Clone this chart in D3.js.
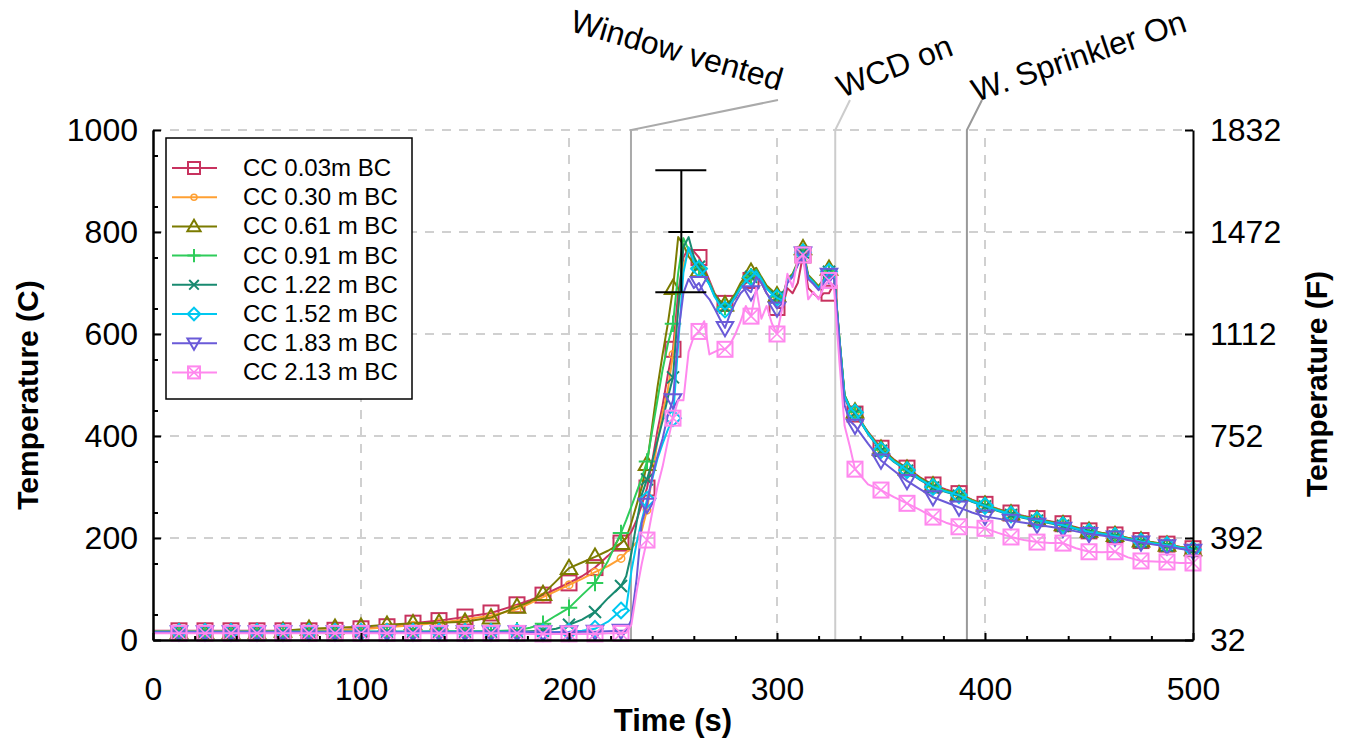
<!DOCTYPE html>
<html>
<head>
<meta charset="utf-8">
<script src="https://cdn.jsdelivr.net/npm/d3@7"></script>
<style>
body { margin: 0; background: #fff; }
svg text { font-family: "Liberation Sans", Arial, sans-serif; }
</style>
</head>
<body>
<div id="chart"></div>
<script>
// time grid (s)
var times = [0,12.5,25,37.5,50,62.5,75,87.5,100,112.5,125,137.5,150,162.5,175,
  181.25,187.5,193.75,200,206.25,212.5,218.75,225,
  227.5,230,232.5,235,237.5,240,242.5,245,247.5,250,
  252.5,255,257.5,260,262.5,265,267.5,270,272.5,275,
  277.5,280,282.5,285,287.5,290,292.5,295,297.5,300,
  302.5,305,307.5,310,312.5,315,317.5,320,322.5,325,
  327.5,330,332.5,335,337.5,
  343.75,350,356.25,362.5,368.75,375,381.25,387.5,393.75,400,406.25,412.5,418.75,425,431.25,437.5,443.75,450,456.25,462.5,468.75,475,481.25,487.5,493.75,500];

var cc003 = [18,18,18,18,18,18,18,19,22,26,33,38,45,53,69,
  78,88,100,112,125,142,165,190,
  200,212,235,265,298,350,410,460,520,570,
  680,750,768,762,750,730,705,680,665,660,
  660,670,690,700,705,715,700,680,665,652,
  650,690,680,700,755,690,680,670,680,680,
  700,585,475,452,443,
  408,376,354,337,319,304,295,287,275,266,257,249,243,238,233,228,221,214,210,206,200,195,191,188,183,179];
var cc030 = [17,17,17,17,17,17,18,19,21,25,29,34,40,48,60,
  72,84,96,108,120,133,145,160,
  172,180,192,215,255,320,390,445,490,560,
  650,735,762,748,732,718,700,677,662,654,
  662,676,694,706,714,725,708,690,680,672,
  666,703,714,737,760,712,700,690,703,720,
  712,590,478,456,446,
  406,374,352,335,317,302,293,285,274,265,256,247,241,236,231,226,219,213,209,205,199,194,190,187,182,178];
var cc061 = [15,15,15,15,15,18,22,24,26,30,33,34,36,44,65,
  75,90,115,141,152,163,175,190,
  200,230,265,300,345,420,495,560,620,690,
  790,775,752,738,725,712,698,678,665,658,
  665,680,700,715,722,730,712,695,686,676,
  670,708,718,742,768,716,705,694,708,728,
  716,592,480,458,448,
  407,375,353,336,318,303,293,286,274,265,256,248,242,237,232,227,220,214,210,206,200,195,191,187,182,178];
var cc091 = [16,16,16,16,16,16,16,16,16,16,16,17,17,17,19,
  24,32,48,63,88,112,155,210,
  235,262,290,318,350,410,470,530,580,620,
  720,788,765,745,730,716,700,676,661,653,
  661,676,693,707,713,726,709,691,682,673,
  668,706,716,739,762,713,703,691,706,724,
  714,592,480,457,447,
  406,373,351,334,316,301,292,285,273,264,255,247,241,236,231,226,219,213,209,205,199,194,190,187,182,178];
var cc122 = [16,16,16,16,16,16,16,16,16,16,16,16,16,16,16,
  17,18,22,30,40,55,82,106,
  125,170,230,285,315,350,390,430,475,515,
  650,770,790,752,732,716,699,675,660,652,
  660,675,692,705,712,724,708,690,680,672,
  667,705,715,738,760,712,702,690,705,722,
  712,590,478,455,445,
  404,371,349,332,314,299,290,283,271,262,253,245,239,234,229,224,217,211,207,203,197,192,188,185,180,176];
var cc152 = [16,16,16,16,16,16,16,16,16,16,16,16,16,16,16,
  15,15,15,16,18,22,36,58,
  62,135,190,235,275,315,355,385,412,435,
  580,720,770,742,728,714,697,673,657,648,
  657,673,690,704,711,723,707,689,679,671,
  666,704,714,737,760,711,701,689,704,722,
  711,589,477,455,446,
  405,372,350,333,315,300,291,284,272,263,254,246,240,235,230,225,218,212,208,204,198,193,189,186,181,177];
var cc183 = [15,15,15,15,15,15,15,15,15,15,15,15,15,15,15,
  15,15,15,15,16,16,17,18,
  18,40,120,230,265,320,360,395,440,470,
  600,680,708,690,700,680,668,650,630,612,
  640,662,680,690,682,712,700,680,665,650,
  660,700,712,735,758,708,698,686,700,716,
  708,585,460,430,420,
  385,352,332,312,296,280,270,260,250,242,238,234,230,226,222,218,213,208,205,201,196,191,187,184,179,175];
var cc213 = [13,13,13,13,13,13,13,13,13,13,13,13,13,13,13,
  12,12,12,12,12,12,13,13,
  14,30,95,150,196,250,300,340,390,435,
  470,470,565,595,605,625,560,565,570,570,
  580,600,625,655,635,690,630,655,621,600,
  650,718,692,748,755,668,682,668,692,705,
  686,545,420,380,335,
  305,294,280,268,255,241,230,222,221,219,210,202,196,192,190,190,180,173,172,173,162,155,154,153,151,151];

var seriesNames = ["CC 0.03m BC","CC 0.30 m BC","CC 0.61 m BC","CC 0.91 m BC","CC 1.22 m BC","CC 1.52 m BC","CC 1.83 m BC","CC 2.13 m BC"];
var seriesValues = [cc003, cc030, cc061, cc091, cc122, cc152, cc183, cc213];
var seriesColors = ["#c8325f","#ffa033","#7b7b00","#2ecc5a","#188a70","#00c8f0","#6a5ad8","#ff88ee"];
var seriesMarkers = ["square","circle","triangle","plus","cross","diamond","triangleDown","squareX"];

var xTicks = [0,100,200,300,400,500];
var yTicks = [0,200,400,600,800,1000];
var fTicks = [32,392,752,1112,1472,1832];

var eventTimes = [229.8, 328, 391.3];
var eventLabels = ["Window vented","WCD on","W. Sprinkler On"];
var errLow = 682, errMid = 800, errHigh = 921, errTime = 254;

var W = 1350, H = 742;
var svg = d3.select("#chart").append("svg")
  .attr("width", W).attr("height", H);

var x = d3.scaleLinear().domain([0,500]).range([153,1193]);
var y = d3.scaleLinear().domain([0,1000]).range([640,130]);
var yF = d3.scaleLinear().domain([32,1832]).range([640,130]);

// grid
var grid = svg.append("g").attr("stroke","#d0d0d0").attr("stroke-width",2).attr("stroke-dasharray","9,8");
grid.selectAll(".gx").data(xTicks.filter(function(d){ return d>0 && d<500; })).enter().append("line")
  .attr("x1", function(d){ return x(d); }).attr("x2", function(d){ return x(d); })
  .attr("y1", y(0)).attr("y2", y(1000));
grid.selectAll(".gy").data(yTicks.filter(function(d){ return d>0; })).enter().append("line")
  .attr("x1", x(0)).attr("x2", x(500))
  .attr("y1", function(d){ return y(d); }).attr("y2", function(d){ return y(d); });

// event lines + leaders
var evColors = ["#aaaaaa","#cccccc","#999999"];
var leaderEnd = [[778,100],[850,100],[982,100]];
eventTimes.forEach(function(t,i){
  var ex = x(t);
  svg.append("path")
    .attr("d", "M" + ex + "," + y(0) + "L" + ex + "," + y(1000) + "L" + leaderEnd[i][0] + "," + leaderEnd[i][1])
    .attr("fill","none").attr("stroke", evColors[i]).attr("stroke-width",2);
});
var labelPos = [[779,91,16,"end",32],[842,98,-21,"start",32],[976,102,-18.5,"start",32]];
eventLabels.forEach(function(s,i){
  var p = labelPos[i];
  svg.append("text")
    .attr("transform","translate(" + p[0] + "," + p[1] + ") rotate(" + p[2] + ")")
    .attr("text-anchor", p[3])
    .attr("font-size", p[4])
    .text(s);
});

function drawMarker(g, type, cx, cy, s, color){
  var h = s/2;
  var m = g.append("g").attr("stroke", color).attr("stroke-width",2).attr("fill","none");
  if(type === "square"){
    m.append("rect").attr("x",cx-h).attr("y",cy-h).attr("width",s).attr("height",s);
  } else if(type === "circle"){
    m.append("circle").attr("cx",cx).attr("cy",cy).attr("r",s*0.25).attr("stroke-width",1.5);
  } else if(type === "triangle"){
    m.append("path").attr("d","M"+cx+","+(cy-s*0.55)+"L"+(cx+h*1.1)+","+(cy+s*0.4)+"L"+(cx-h*1.1)+","+(cy+s*0.4)+"Z");
  } else if(type === "plus"){
    m.append("path").attr("d","M"+(cx-h*1.1)+","+cy+"L"+(cx+h*1.1)+","+cy+"M"+cx+","+(cy-h*1.1)+"L"+cx+","+(cy+h*1.1));
  } else if(type === "cross"){
    m.append("path").attr("d","M"+(cx-h*0.8)+","+(cy-h*0.8)+"L"+(cx+h*0.8)+","+(cy+h*0.8)+"M"+(cx-h*0.8)+","+(cy+h*0.8)+"L"+(cx+h*0.8)+","+(cy-h*0.8));
  } else if(type === "diamond"){
    m.append("path").attr("d","M"+cx+","+(cy-h*1.05)+"L"+(cx+h*1.05)+","+cy+"L"+cx+","+(cy+h*1.05)+"L"+(cx-h*1.05)+","+cy+"Z");
  } else if(type === "triangleDown"){
    m.append("path").attr("d","M"+cx+","+(cy+s*0.55)+"L"+(cx+h*1.1)+","+(cy-s*0.4)+"L"+(cx-h*1.1)+","+(cy-s*0.4)+"Z");
  } else if(type === "squareX"){
    m.append("rect").attr("x",cx-h).attr("y",cy-h).attr("width",s).attr("height",s);
    m.append("path").attr("stroke-width",1.5).attr("d","M"+(cx-h)+","+(cy-h)+"L"+(cx+h)+","+(cy+h)+"M"+(cx-h)+","+(cy+h)+"L"+(cx+h)+","+(cy-h));
  }
}

// series
var line = d3.line()
  .x(function(d){ return x(d[0]); })
  .y(function(d){ return y(d[1]); });

seriesValues.forEach(function(vals, si){
  var pts = times.map(function(t,i){ return [t, vals[i]]; });
  var g = svg.append("g");
  g.append("path").datum(pts).attr("d", line)
    .attr("fill","none").attr("stroke", seriesColors[si]).attr("stroke-width",2)
    .attr("stroke-linejoin","round");
  pts.forEach(function(p){
    if(p[0] > 0 && p[0] % 12.5 === 0){
      drawMarker(g, seriesMarkers[si], x(p[0]), y(p[1]), 15, seriesColors[si]);
    }
  });
});

// error bar
var eb = svg.append("g").attr("stroke","#000").attr("stroke-width",2);
var ex0 = x(errTime);
eb.append("line").attr("x1",ex0).attr("x2",ex0).attr("y1",y(errLow)).attr("y2",y(errHigh));
eb.append("line").attr("x1",ex0-26).attr("x2",ex0+25).attr("y1",y(errHigh)).attr("y2",y(errHigh));
eb.append("line").attr("x1",ex0-26).attr("x2",ex0+25).attr("y1",y(errLow)).attr("y2",y(errLow));
eb.append("line").attr("x1",ex0-13).attr("x2",ex0+12).attr("y1",y(errMid)).attr("y2",y(errMid));

// axes
var fontTick = 32;
var fmt = d3.format("d");
var axL = svg.append("g").attr("transform","translate(" + x(0) + ",0)")
  .call(d3.axisLeft(y).tickValues(yTicks).tickFormat(fmt).tickSizeInner(-8).tickSizeOuter(0).tickPadding(15));
svg.append("g").attr("transform","translate(" + x(0) + ",0)")
  .call(d3.axisLeft(y).tickValues(d3.range(50,1000,100)).tickSizeInner(-5).tickSizeOuter(0).tickFormat(""));
var axB = svg.append("g").attr("transform","translate(0," + y(0) + ")")
  .call(d3.axisBottom(x).tickValues(xTicks).tickFormat(fmt).tickSizeInner(-7).tickSizeOuter(0).tickPadding(36));
svg.append("g").attr("transform","translate(0," + y(0) + ")")
  .call(d3.axisBottom(x).tickValues(d3.range(0,501,20).filter(function(d){ return d % 100 !== 0; })).tickSizeInner(-4).tickSizeOuter(0).tickFormat(""));
var axR = svg.append("g").attr("transform","translate(" + x(500) + ",0)")
  .call(d3.axisRight(yF).tickValues(fTicks).tickFormat(fmt).tickSizeInner(-8).tickSizeOuter(0).tickPadding(17));
svg.selectAll(".domain").attr("stroke","#000").attr("stroke-width",2);
svg.selectAll(".tick line").attr("stroke","#000").attr("stroke-width",2);
[axL, axB, axR].forEach(function(a){
  a.selectAll("text").attr("font-size", fontTick).attr("font-family","Liberation Sans, Arial, sans-serif").attr("fill","#000");
});
axB.selectAll("text").attr("dy","0");
axB.selectAll("text").attr("y", 60);

// axis titles
svg.append("text").attr("transform","translate(38,395) rotate(-90)")
  .attr("text-anchor","middle").attr("font-size",30).attr("font-weight","bold").text("Temperature (C)");
svg.append("text").attr("transform","translate(1327,384) rotate(-90)")
  .attr("text-anchor","middle").attr("font-size",30).attr("font-weight","bold").text("Temperature (F)");
svg.append("text").attr("x", x(250)).attr("y",731)
  .attr("text-anchor","middle").attr("font-size",31).attr("font-weight","bold").text("Time (s)");

// legend
var lg = svg.append("g");
lg.append("rect").attr("x",166).attr("y",138).attr("width",246).attr("height",261)
  .attr("fill","#fff").attr("stroke","#000").attr("stroke-width",1.5);
seriesNames.forEach(function(name, i){
  var ly = 168 + i * 29.2;
  lg.append("line").attr("x1",172).attr("x2",217).attr("y1",ly).attr("y2",ly)
    .attr("stroke", seriesColors[i]).attr("stroke-width",2);
  drawMarker(lg, seriesMarkers[i], 194, ly, 12, seriesColors[i]);
  lg.append("text").attr("x",243).attr("y",ly+8).attr("font-size",24).text(name);
});
</script>
</body>
</html>
